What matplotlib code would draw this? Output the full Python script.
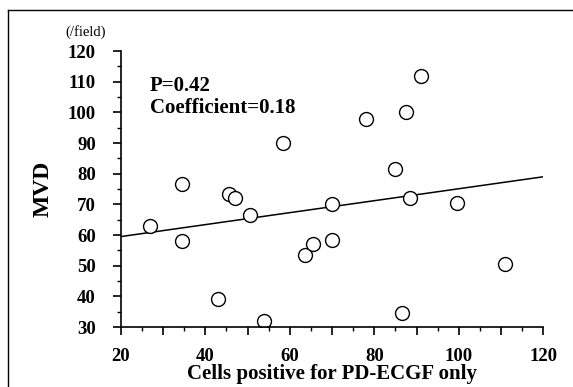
import matplotlib
matplotlib.use("Agg")
import matplotlib.pyplot as plt
from matplotlib.lines import Line2D
from matplotlib.ticker import MultipleLocator, FuncFormatter

# cells positive for PD-ECGF only vs MVD
pdecgf = [27, 34.5, 34.5, 43, 45.5, 47, 50.5, 54, 58.5, 63.5, 65.5, 70, 70,
          78, 85, 86.5, 87.5, 88.5, 91, 99.5, 111]
mvd = [63, 58, 76.5, 39, 73.5, 72, 66.5, 32, 90, 53.5, 57, 70, 58.5,
       98, 81.5, 34.5, 100, 72, 112, 70.5, 50.5]
fit_x = [20, 120]
fit_y = [59.5, 79]

plt.rcParams['font.family'] = ['Liberation Serif', 'DejaVu Serif']

fig = plt.figure(figsize=(5.73, 3.87), dpi=100)
ax = fig.add_axes([0.211, 0.155, 0.737, 0.713])

ax.plot(fit_x, fit_y, color='black', lw=1.1)
ax.plot(pdecgf, mvd, 'o', mfc='white', mec='black', ms=10, mew=1.0)

ax.set_xlim(20, 120)
ax.set_ylim(30, 120)
ax.xaxis.set_major_locator(MultipleLocator(10))
ax.xaxis.set_minor_locator(MultipleLocator(5))
ax.xaxis.set_major_formatter(FuncFormatter(lambda v, p: '%d' % v if v % 20 == 0 else ''))
ax.yaxis.set_major_locator(MultipleLocator(10))
ax.yaxis.set_minor_locator(MultipleLocator(5))
ax.tick_params(which='major', length=6, width=1.2, labelsize=13.5)
ax.tick_params(which='minor', length=3, width=1.0)
ax.tick_params(axis='y', pad=12)
ax.tick_params(axis='x', pad=9)
for lab in ax.get_xticklabels() + ax.get_yticklabels():
    lab.set_fontweight('bold')

ax.spines['top'].set_visible(False)
ax.spines['right'].set_visible(False)
ax.spines['left'].set_linewidth(1.2)
ax.spines['bottom'].set_linewidth(1.2)

ax.set_xlabel('Cells positive for PD-ECGF only', fontsize=15, fontweight='bold', va='center')
ax.xaxis.set_label_coords(0.5, -0.17)
ax.set_ylabel('MVD', fontsize=17, fontweight='bold', labelpad=10)

ax.text(0.068, 0.875, 'P=0.42', transform=ax.transAxes, fontsize=15, fontweight='bold', va='center')
ax.text(0.068, 0.795, 'Coefficient=0.18', transform=ax.transAxes, fontsize=15, fontweight='bold', va='center')
fig.text(65 / 573, 1 - 32 / 387, '(/field)', fontsize=10.5, va='center')

# outer frame (top and left only)
fig.add_artist(Line2D([8 / 573, 1], [1 - 10 / 387, 1 - 10 / 387], color='black', lw=1.0))
fig.add_artist(Line2D([8 / 573, 8 / 573], [0, 1 - 10 / 387], color='black', lw=1.0))

fig.savefig('out.png', dpi=100)
